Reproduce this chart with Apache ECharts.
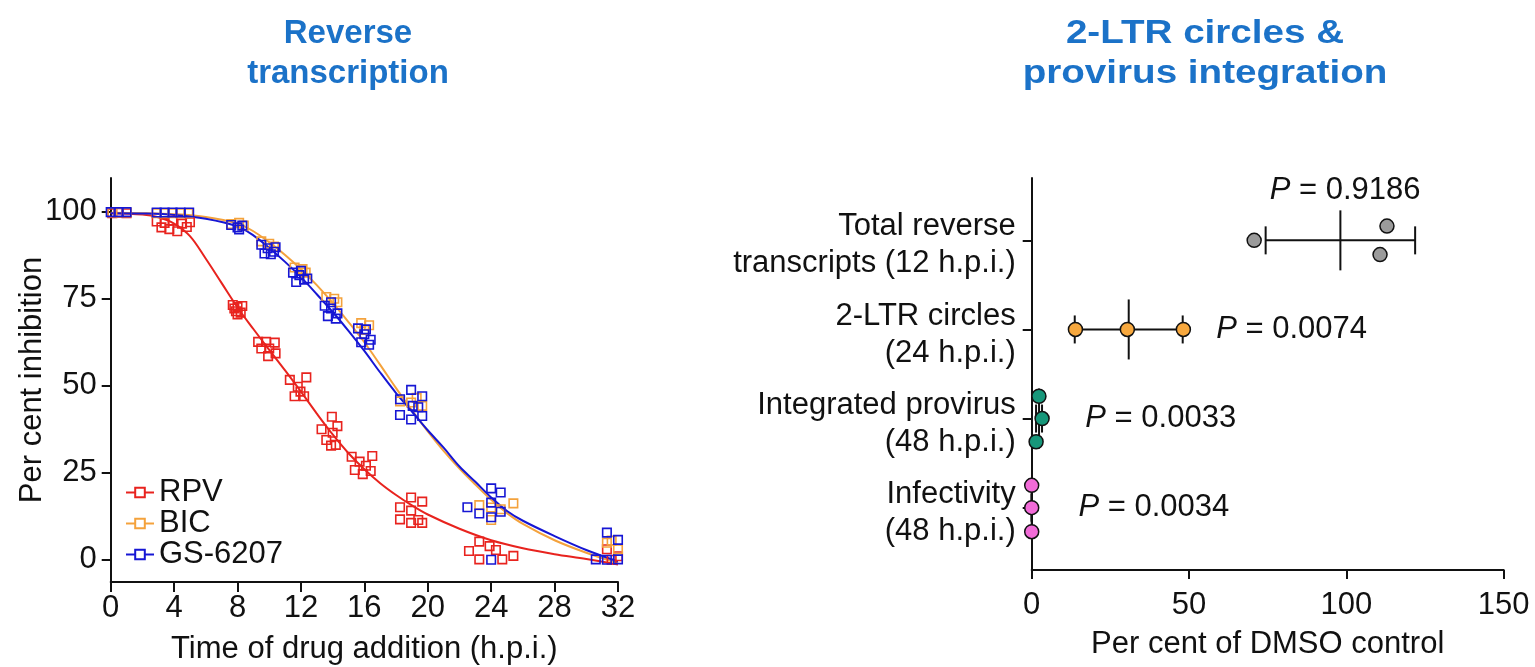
<!DOCTYPE html>
<html>
<head>
<meta charset="utf-8">
<title>Time-of-addition and 2-LTR analysis</title>
<script src="https://cdn.jsdelivr.net/npm/echarts@6/dist/echarts.min.js"></script>
<style>
  html, body { margin: 0; padding: 0; background: #ffffff; }
  #chart { width: 1535px; height: 667px; }
</style>
</head>
<body>
<div id="chart"></div>
<script>
// ---------- Left panel: per cent inhibition vs time of drug addition ----------
const timeTicks = [0, 4, 8, 12, 16, 20, 24, 28, 32];
const inhibitionTicks = [0, 25, 50, 75, 100];
const seriesNames = ['RPV', 'BIC', 'GS-6207'];

// replicate measurements [h.p.i., per cent inhibition]
const rpvPoints = [
  [0.1, 99.6], [0.5, 99.7], [1.0, 99.6],
  [2.9, 97.2], [3.4, 96.8], [3.9, 97.4], [4.5, 96.6], [5.0, 97.0], [3.2, 95.5], [3.7, 95.0], [4.2, 94.4], [4.8, 95.6],
  [7.7, 73.2], [8.0, 72.6], [8.3, 72.9], [7.9, 71.4], [8.2, 71.0], [7.8, 72.2], [8.0, 70.5],
  [9.3, 62.6], [9.8, 62.6], [10.35, 62.4], [9.5, 60.7], [10.0, 60.7], [9.93, 58.5], [10.4, 59.3],
  [11.3, 51.7], [12.34, 52.4], [11.8, 49.7], [11.6, 47.0], [12.2, 47.0], [11.97, 48.3],
  [13.95, 41.1], [14.3, 38.4], [13.3, 37.5], [14.0, 36.5], [13.6, 34.4], [14.2, 33.0], [13.9, 32.8],
  [15.2, 29.6], [16.5, 29.8], [15.7, 28.2], [16.1, 27.0], [15.4, 25.8], [16.4, 25.5], [15.9, 24.6],
  [18.95, 17.9], [19.65, 16.7], [18.25, 15.1], [18.95, 14.1], [18.25, 11.6], [18.95, 10.6], [19.65, 10.6], [19.4, 11.4],
  [23.25, 5.2], [23.9, 3.9], [24.3, 2.8], [22.6, 2.5], [23.25, 0.1], [24.7, 0.1], [25.4, 1.1],
  [31.3, 3.0], [32.0, 1.0], [31.6, 0.0]
];
const bicPoints = [
  [0.1, 99.8], [0.5, 99.8], [1.0, 99.8],
  [2.9, 99.6], [3.4, 99.6], [3.9, 99.6], [4.4, 99.6], [4.9, 99.6],
  [7.6, 96.5], [8.1, 96.8], [8.4, 96.0],
  [9.5, 91.5], [10.0, 90.8], [10.3, 90.0],
  [11.6, 84.0], [12.1, 83.5], [12.3, 82.5],
  [13.6, 75.5], [14.1, 75.0], [14.3, 74.0],
  [15.8, 68.0], [16.3, 67.4], [16.0, 66.0],
  [18.25, 45.5], [18.95, 45.2], [19.65, 44.2], [19.3, 46.5],
  [23.25, 15.7], [25.4, 16.2], [24.0, 15.0], [24.0, 11.4], [24.6, 14.5],
  [31.3, 4.9], [32.0, 3.0], [31.6, 5.5]
];
const gsPoints = [
  [0.0, 99.9], [0.5, 99.9], [1.0, 99.9],
  [2.9, 99.8], [3.4, 99.8], [3.9, 99.8], [4.4, 99.8], [4.95, 99.8],
  [7.6, 96.2], [8.0, 95.5], [8.3, 96.0], [8.1, 94.9],
  [9.5, 90.5], [9.9, 89.5], [10.3, 88.5], [9.7, 88.0], [10.1, 87.8], [10.4, 89.8],
  [11.5, 82.5], [11.9, 81.8], [12.2, 80.5], [11.7, 79.8], [12.4, 80.8], [12.0, 83.0],
  [13.5, 73.0], [13.9, 72.2], [14.3, 70.8], [13.7, 70.0], [14.2, 69.3], [13.9, 74.0],
  [15.6, 66.5], [16.0, 64.8], [16.4, 63.2], [15.8, 62.5], [16.3, 61.8], [16.1, 66.2],
  [18.95, 48.8], [19.65, 47.0], [18.25, 46.1], [19.05, 44.2], [19.4, 43.8], [18.25, 41.6], [18.95, 40.3], [19.65, 41.3],
  [24.0, 20.5], [24.6, 19.3], [22.5, 15.1], [24.0, 16.4], [24.6, 13.8], [23.25, 13.3], [24.0, 12.2], [24.0, 0.0],
  [31.3, 7.8], [32.0, 5.7], [30.6, 0.1], [31.3, 0.0], [32.0, 0.1]
];

// fitted dose-response curves, sampled [h.p.i., per cent inhibition]
const rpvFit = [
  [0, 99.6], [2, 99.2], [3, 98.4], [4, 96.6], [5, 93.0], [6, 86.5], [7, 79.5], [8, 72.5], [9, 66.3],
  [10, 60.3], [11, 54.4], [12, 48.3], [13, 42.0], [14, 36.0], [15, 30.6], [16, 26.0], [17, 22.0],
  [18, 18.6], [19, 15.6], [20, 13.0], [22, 8.9], [24, 5.6], [26, 3.3], [28, 1.6], [30, 0.2], [32, -1.4]
];
const bicFit = [
  [0, 99.7], [2, 99.6], [4, 99.3], [6, 98.5], [8, 96.6], [9, 94.4], [10, 91.2], [11, 87.6], [12, 83.5],
  [13, 78.9], [14, 73.8], [15, 68.3], [16, 62.5], [17, 56.0], [18, 49.3], [19, 42.9], [20, 36.9],
  [21, 31.3], [22, 26.2], [23, 21.6], [24, 17.2], [25, 13.4], [26, 10.3], [28, 5.6], [30, 2.0], [32, -1.0]
];
const gsFit = [
  [0, 99.6], [2, 99.5], [4, 99.1], [6, 98.0], [8, 95.8], [9, 93.2], [10, 89.6], [11, 85.6], [12, 81.2],
  [13, 76.3], [14, 71.2], [15, 65.8], [16, 60.0], [17, 53.8], [18, 47.9], [19, 42.6], [20, 37.2],
  [21, 32.2], [22, 26.8], [23, 22.4], [24, 17.9], [25, 14.0], [26, 11.2], [28, 6.8], [30, 2.8], [32, -0.5]
];

// ---------- Right panel: per cent of DMSO control ----------
const assayLabels = [
  'Infectivity\n(48 h.p.i.)',
  'Integrated provirus\n(48 h.p.i.)',
  '2-LTR circles\n(24 h.p.i.)',
  'Total reverse\ntranscripts (12 h.p.i.)'
];
const dmsoTicks = [0, 50, 100, 150];
const infectivity = [0.0, 0.0, 0.0];
const integratedProvirus = [2.3, 3.3, 1.4];
const ltrCircles = [13.9, 30.4, 48.2];
const totalRT = [70.7, 112.9, 110.7];
// vertical spread of the replicate dots within each row
const infectivityOffset = [0.25, 0.0, -0.27];
const integratedOffset = [0.25, 0.0, -0.26];
const ltrOffset = [0.0, 0.0, 0.0];
const totalRTOffset = [0.0, 0.16, -0.16];
const pValues = ['0.0034', '0.0033', '0.0074', '0.9186'];
// where each P value sits: [per cent, row]
const pLabelAnchors = [[38.8, 1.0], [41.0, 2.0], [82.6, 3.0], [99.6, 4.56]];

// ---------- styling ----------
const FONT = 'Liberation Sans, Arial, Helvetica, sans-serif';
const FS = 31;
const INK = '#111111';
const RED = '#e8231e', ORANGE = '#f4a23c', BLUE = '#1616d4';
const TITLE_BLUE = '#1b72c8';

function meanSd(v) {
  const m = v.reduce((a, b) => a + b, 0) / v.length;
  const s = Math.sqrt(v.reduce((a, b) => a + (b - m) * (b - m), 0) / (v.length - 1));
  return [m, s];
}
function rowPoints(values, offsets, row) {
  return values.map((v, i) => [v, row + offsets[i]]);
}

const rows = [
  { values: infectivity, offsets: infectivityOffset, color: '#f26bd8' },
  { values: integratedProvirus, offsets: integratedOffset, color: '#17977a' },
  { values: ltrCircles, offsets: ltrOffset, color: '#f7a83e' },
  { values: totalRT, offsets: totalRTOffset, color: '#9b9b9b' }
];
const summary = rows.map((r, i) => {
  const ms = meanSd(r.values);
  return [i + 1, ms[0], ms[1]];
});

const chart = echarts.init(document.getElementById('chart'), null, { renderer: 'canvas' });

function scatterSeries(name, pts, color) {
  return {
    type: 'scatter', name: name + ' replicates', xAxisIndex: 0, yAxisIndex: 0,
    data: pts, symbol: 'rect', symbolSize: 8.5, z: 4,
    itemStyle: { color: 'rgba(0,0,0,0)', borderColor: color, borderWidth: 1.6, opacity: 1 },
    emphasis: { disabled: true }, silent: true
  };
}
function fitSeries(name, pts, color) {
  return {
    type: 'line', name: name, xAxisIndex: 0, yAxisIndex: 0,
    data: pts, smooth: 0.35, showSymbol: false, symbol: 'emptyRect', symbolSize: 9, z: 3,
    lineStyle: { color: color, width: 2 },
    itemStyle: { color: color, borderColor: color, borderWidth: 1.6 },
    emphasis: { disabled: true }, silent: true
  };
}

const option = {
  backgroundColor: '#ffffff',
  animation: false,
  textStyle: { fontFamily: FONT, color: INK },
  graphic: [
    { type: 'text', x: 348, y: 14, style: { text: 'Reverse\ntranscription', textAlign: 'center', fill: TITLE_BLUE, font: 'bold 33px ' + FONT, lineHeight: 40 } },
    { type: 'text', x: 1205, y: 14, scaleX: 1.17, style: { text: '2-LTR circles &\nprovirus integration', textAlign: 'center', fill: TITLE_BLUE, font: 'bold 33px ' + FONT, lineHeight: 40 } }
  ],
  legend: {
    data: seriesNames, orient: 'vertical', left: 120, top: 472,
    itemWidth: 28, itemHeight: 12, itemGap: 0,
    textStyle: { fontFamily: FONT, fontSize: FS, color: INK, lineHeight: 30 },
    selectedMode: false
  },
  grid: [
    { left: 110.7, top: 178, width: 507.3, height: 404, outerBoundsMode: 'none', containLabel: false },
    { left: 1031.7, top: 178, width: 472, height: 392, outerBoundsMode: 'none', containLabel: false }
  ],
  xAxis: [
    {
      gridIndex: 0, type: 'value', min: timeTicks[0], max: timeTicks[timeTicks.length - 1], interval: 4,
      name: 'Time of drug addition (h.p.i.)', nameLocation: 'middle', nameGap: 52, nameMoveOverlap: false,
      nameTextStyle: { fontFamily: FONT, fontSize: FS, color: INK },
      axisLine: { show: true, onZero: false, lineStyle: { color: INK, width: 2 } },
      axisTick: { show: true, length: 10, lineStyle: { color: INK, width: 2 } },
      axisLabel: { fontFamily: FONT, fontSize: FS, color: INK, margin: 11 },
      splitLine: { show: false }
    },
    {
      gridIndex: 1, type: 'value', min: dmsoTicks[0], max: dmsoTicks[dmsoTicks.length - 1], interval: 50,
      name: 'Per cent of DMSO control', nameLocation: 'middle', nameGap: 59, nameMoveOverlap: false,
      nameTextStyle: { fontFamily: FONT, fontSize: FS, color: INK },
      axisLine: { show: true, onZero: false, lineStyle: { color: INK, width: 2 } },
      axisTick: { show: true, length: 9, lineStyle: { color: INK, width: 2 } },
      axisLabel: { fontFamily: FONT, fontSize: FS, color: INK, margin: 20 },
      splitLine: { show: false }
    }
  ],
  yAxis: [
    {
      gridIndex: 0, type: 'value', min: -6.4, max: 109.7,
      name: 'Per cent inhibition', nameLocation: 'middle', nameGap: 63, nameRotate: 90, nameMoveOverlap: false,
      nameTextStyle: { fontFamily: FONT, fontSize: FS, color: INK },
      axisLine: { show: true, onZero: false, lineStyle: { color: INK, width: 2 } },
      axisTick: { show: true, length: 9, customValues: inhibitionTicks, lineStyle: { color: INK, width: 2 } },
      axisLabel: { fontFamily: FONT, fontSize: FS, color: INK, margin: 14, customValues: inhibitionTicks },
      splitLine: { show: false }
    },
    {
      gridIndex: 1, type: 'value', min: 0.3, max: 4.7,
      axisLine: { show: true, onZero: false, lineStyle: { color: INK, width: 2 } },
      axisTick: { show: true, length: 9, customValues: [1, 2, 3, 4], lineStyle: { color: INK, width: 2 } },
      axisLabel: {
        color: INK, margin: 16, align: 'right',
        customValues: [1, 2, 3, 4],
        formatter: function (v) { return '{a|' + assayLabels[Math.round(v) - 1] + '}'; },
        rich: { a: { fontFamily: FONT, fontSize: FS, color: INK, lineHeight: 37, align: 'right', padding: [10, 0, 0, 0] } }
      },
      splitLine: { show: false }
    }
  ],
  series: [
    scatterSeries('RPV', rpvPoints, RED),
    scatterSeries('BIC', bicPoints, ORANGE),
    scatterSeries('GS-6207', gsPoints, BLUE),
    fitSeries('RPV', rpvFit, RED),
    fitSeries('BIC', bicFit, ORANGE),
    fitSeries('GS-6207', gsFit, BLUE),
    {
      type: 'custom', name: 'mean ± s.d.', xAxisIndex: 1, yAxisIndex: 1,
      data: summary, encode: { x: 1, y: 0 }, z: 2, silent: true,
      renderItem: function (params, api) {
        const row = api.value(0), m = api.value(1), s = api.value(2);
        const c = api.coord([m, row]);
        const lo = api.coord([m - s, row]);
        const hi = api.coord([m + s, row]);
        const st = { stroke: INK, lineWidth: 2, fill: null };
        const cap = 14, mid = 30;
        return {
          type: 'group',
          children: [
            { type: 'line', shape: { x1: lo[0], y1: c[1], x2: hi[0], y2: c[1] }, style: st },
            { type: 'line', shape: { x1: lo[0], y1: c[1] - cap, x2: lo[0], y2: c[1] + cap }, style: st },
            { type: 'line', shape: { x1: hi[0], y1: c[1] - cap, x2: hi[0], y2: c[1] + cap }, style: st },
            { type: 'line', shape: { x1: c[0], y1: c[1] - mid, x2: c[0], y2: c[1] + mid }, style: st }
          ]
        };
      }
    }
  ].concat(rows.map((r, i) => ({
    type: 'scatter', name: assayLabels[i], xAxisIndex: 1, yAxisIndex: 1,
    data: rowPoints(r.values, r.offsets, i + 1), symbol: 'circle', symbolSize: 14, z: 5,
    itemStyle: { color: r.color, borderColor: INK, borderWidth: 1.5, opacity: 1 },
    emphasis: { disabled: true }, silent: true
  }))).concat([{
    type: 'scatter', name: 'P values', xAxisIndex: 1, yAxisIndex: 1,
    data: pLabelAnchors,
    symbol: 'circle', symbolSize: 1, z: 6, silent: true,
    itemStyle: { color: 'rgba(0,0,0,0)', opacity: 1 },
    label: {
      show: true, position: 'inside', align: 'center', verticalAlign: 'middle', opacity: 1,
      formatter: function (p) { return '{i|P} = ' + pValues[p.dataIndex]; },
      fontFamily: FONT, fontSize: FS, color: INK,
      rich: { i: { fontFamily: FONT, fontSize: FS, fontStyle: 'italic', color: INK } }
    }
  }])
};

chart.setOption(option);
</script>
</body>
</html>
